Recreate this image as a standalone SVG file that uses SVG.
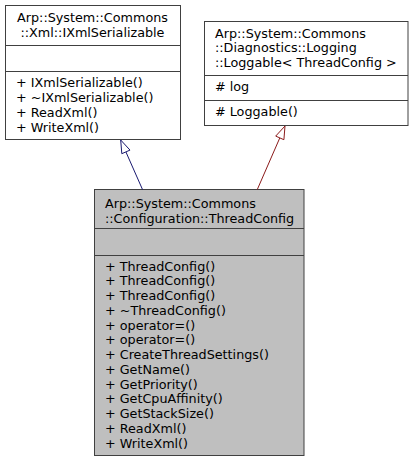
<svg xmlns="http://www.w3.org/2000/svg" width="415" height="463" viewBox="0 0 415 463">
<style>
.box{fill:#ffffff;stroke:#404040;stroke-width:1}
.cur{fill:#bfbfbf;stroke:#404040;stroke-width:1}
.sep{stroke:#404040;stroke-width:1}
text{font-family:"DejaVu Sans",sans-serif;font-size:12.75px;fill:#000000}
.blue{stroke:#191970;fill:none;stroke-width:1}
.bluehead{stroke:#191970;fill:#ffffff;stroke-width:1}
.red{stroke:#8b1a1a;fill:none;stroke-width:1}
.redhead{stroke:#8b1a1a;fill:#ffffff;stroke-width:1}
</style>
<rect width="415" height="463" fill="#ffffff"/>
<g id="node_IXmlSerializable">
<rect class="box" x="5.5" y="5.5" width="175" height="134"/>
<line class="sep" x1="5.5" y1="45.5" x2="180.5" y2="45.5"/>
<line class="sep" x1="5.5" y1="71.5" x2="180.5" y2="71.5"/>
<text x="92.5" y="22" text-anchor="middle">Arp::System::Commons</text>
<text x="92.5" y="37" text-anchor="middle">::Xml::IXmlSerializable</text>
<text x="16" y="86.5">+ IXmlSerializable()</text>
<text x="16" y="101.5">+ ~IXmlSerializable()</text>
<text x="16" y="116.5">+ ReadXml()</text>
<text x="16" y="131.5">+ WriteXml()</text>
</g>
<g id="node_Loggable">
<rect class="box" x="204.5" y="21.5" width="203.5" height="104"/>
<line class="sep" x1="204.5" y1="75.5" x2="408" y2="75.5"/>
<line class="sep" x1="204.5" y1="100.5" x2="408" y2="100.5"/>
<text x="215" y="37.7">Arp::System::Commons</text>
<text x="215" y="52.3">::Diagnostics::Logging</text>
<text x="215" y="67">::Loggable&lt; ThreadConfig &gt;</text>
<text x="215" y="91"># log</text>
<text x="215" y="116"># Loggable()</text>
</g>
<g id="node_ThreadConfig">
<rect class="cur" x="94.5" y="189.5" width="209.5" height="266"/>
<line class="sep" x1="94.5" y1="228.5" x2="304" y2="228.5"/>
<line class="sep" x1="94.5" y1="255.5" x2="304" y2="255.5"/>
<text x="105" y="208">Arp::System::Commons</text>
<text x="105" y="222.5">::Configuration::ThreadConfig</text>
<text x="105" y="270.7">+ ThreadConfig()</text>
<text x="105" y="285.45">+ ThreadConfig()</text>
<text x="105" y="300.2">+ ThreadConfig()</text>
<text x="105" y="314.95">+ ~ThreadConfig()</text>
<text x="105" y="329.7">+ operator=()</text>
<text x="105" y="344.45">+ operator=()</text>
<text x="105" y="359.2">+ CreateThreadSettings()</text>
<text x="105" y="373.95">+ GetName()</text>
<text x="105" y="388.7">+ GetPriority()</text>
<text x="105" y="403.45">+ GetCpuAffinity()</text>
<text x="105" y="418.2">+ GetStackSize()</text>
<text x="105" y="432.95">+ ReadXml()</text>
<text x="105" y="447.7">+ WriteXml()</text>
</g>
<g id="connectors">
<line class="blue" x1="142.5" y1="189.5" x2="125.9" y2="151.9"/>
<polygon class="bluehead" points="120.7,140 130,150.1 121.8,153.7"/>
<line class="red" x1="257.3" y1="189.5" x2="279.8" y2="137.9"/>
<polygon class="redhead" points="285,126 283.9,139.7 275.7,136.1"/>
</g>
</svg>
